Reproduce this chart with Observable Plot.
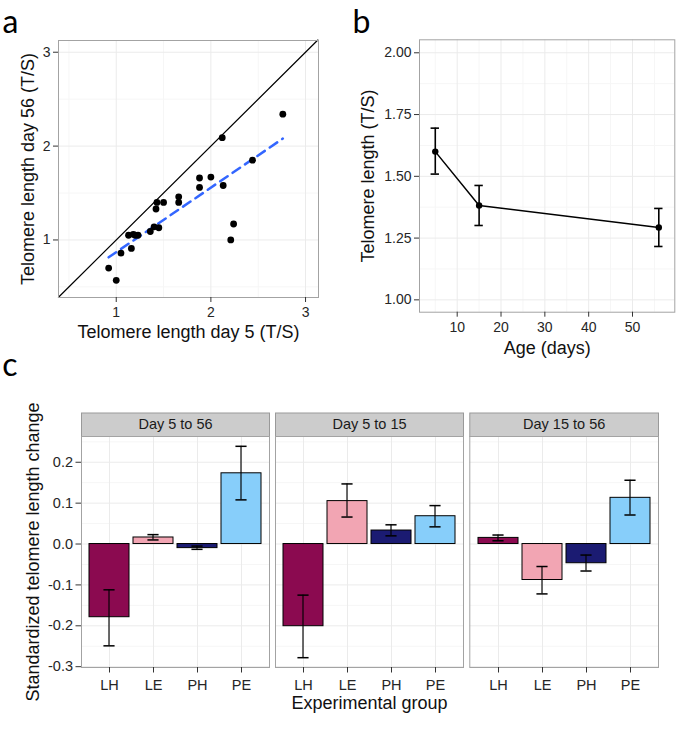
<!DOCTYPE html>
<html><head><meta charset="utf-8">
<script src="https://cdn.jsdelivr.net/npm/d3@7"></script>
<script src="https://cdn.jsdelivr.net/npm/@observablehq/plot@0.6"></script>
<style>
html,body{margin:0;padding:0;background:#fff;}
#fig{position:relative;width:685px;height:731px;overflow:hidden;background:#fff;}
g[aria-label="x-axis label"], g[aria-label="y-axis label"]{font-size:18px;fill:#111;}
</style></head><body><div id="fig"></div>
<script>
// ---------- Panel a: day 5 vs day 56 telomere length ----------
const day5  = [0.92, 1.00, 1.05, 1.13, 1.16, 1.18, 1.20, 1.23, 1.36, 1.40, 1.42, 1.43, 1.45, 1.50, 1.66, 1.66, 1.88, 1.88, 2.00, 2.12, 2.13, 2.21, 2.24, 2.44, 2.76];
const day56 = [0.70, 0.57, 0.86, 1.05, 0.91, 1.06, 1.05, 1.05, 1.09, 1.14, 1.33, 1.40, 1.13, 1.40, 1.46, 1.40, 1.66, 1.56, 1.67, 2.09, 1.58, 1.00, 1.17, 1.85, 2.34];
const fitX = [0.92, 2.76];
const fitY = [0.815, 2.08];
const identityEnds = [0.39, 3.13];
const ticksA = [1, 2, 3];
const minorA = [0.5, 1.5, 2.5];

// ---------- Panel b: telomere length by age ----------
const ages = [5, 15, 56];
const meanTL = [1.600, 1.382, 1.293];
const loTL = [1.509, 1.301, 1.216];
const hiTL = [1.695, 1.463, 1.370];
const ticksBx = [10, 20, 30, 40, 50];
const minorBx = [5, 15, 25, 35, 45, 55];
const ticksBy = [1.00, 1.25, 1.50, 1.75, 2.00];
const minorBy = [1.125, 1.375, 1.625, 1.875];

// ---------- Panel c: standardized change per group ----------
const groups = ["LH", "LE", "PH", "PE"];
const groupColors = ["#8B0A50", "#F2A5B3", "#1B1B72", "#87CEFA"];
const periods = ["Day 5 to 56", "Day 5 to 15", "Day 15 to 56"];
const change5to56  = [-0.179, 0.016, -0.010, 0.173];
const lo5to56      = [-0.249, 0.010, -0.013, 0.108];
const hi5to56      = [-0.112, 0.023, -0.005, 0.239];
const change5to15  = [-0.201, 0.105, 0.033, 0.068];
const lo5to15      = [-0.278, 0.066, 0.020, 0.042];
const hi5to15      = [-0.125, 0.147, 0.047, 0.094];
const change15to56 = [0.015, -0.088, -0.047, 0.113];
const lo15to56     = [0.008, -0.122, -0.066, 0.071];
const hi15to56     = [0.022, -0.055, -0.027, 0.156];
const ticksCy = [-0.3, -0.2, -0.1, 0.0, 0.1, 0.2];
const minorCy = [-0.25, -0.15, -0.05, 0.05, 0.15, 0.25];

// ---------- styling ----------
const FONT = "'Liberation Sans', Arial, Helvetica, sans-serif";
const LABELFONT = "Lato, 'Open Sans', sans-serif";
const MAJOR = "#ebebeb", MINOR = "#f6f6f6", BORDER = "#a3a3a3", TXT = "#262626";
const baseStyle = {fontFamily: FONT, fontSize: "14px", background: "transparent", color: TXT, overflow: "visible"};
const fig = document.getElementById("fig");
function place(el, left, top) {
  el.style.position = "absolute"; el.style.left = left + "px"; el.style.top = top + "px";
  fig.appendChild(el);
}

// ---------- Panel a ----------
const ptsA = day5.map((x, i) => ({x, y: day56[i]}));
const fitA = fitX.map((x, i) => ({x, y: fitY[i]}));
const idA = identityEnds.map(v => ({x: v, y: v}));
const pa = Plot.plot({
  width: 340, height: 345, marginLeft: 58, marginRight: 22, marginTop: 40, marginBottom: 48,
  style: baseStyle,
  x: {domain: [0.39, 3.137]},
  y: {domain: [0.387, 3.125]},
  marks: [
    Plot.gridX(minorA, {stroke: MINOR, strokeOpacity: 1}),
    Plot.gridY(minorA, {stroke: MINOR, strokeOpacity: 1}),
    Plot.gridX(ticksA, {stroke: MAJOR, strokeOpacity: 1}),
    Plot.gridY(ticksA, {stroke: MAJOR, strokeOpacity: 1}),
    Plot.line(idA, {x: "x", y: "y", stroke: "black", strokeWidth: 1.2}),
    Plot.line(fitA, {x: "x", y: "y", stroke: "#3366FF", strokeWidth: 2.5, strokeDasharray: "9,6"}),
    Plot.dot(ptsA, {x: "x", y: "y", r: 3.4, fill: "black"}),
    Plot.frame({stroke: BORDER}),
    Plot.axisX(ticksA, {tickSize: 5, tickPadding: 5, stroke: "#333", fill: TXT, fontSize: 14,
      tickFormat: d => String(d),
      label: "Telomere length day 5 (T/S)", labelAnchor: "center", labelOffset: 40.5, labelArrow: "none"}),
    Plot.axisY(ticksA, {tickSize: 5, tickPadding: 3, stroke: "#333", fill: TXT, fontSize: 14,
      tickFormat: d => String(d),
      label: "Telomere length day 56 (T/S)", labelAnchor: "center", labelOffset: 37, labelArrow: "none"}),
    Plot.text(["a"], {frameAnchor: "top-left", dx: -56, dy: -8, lineAnchor: "bottom", textAnchor: "start",
      fontSize: 32, fontFamily: LABELFONT, fill: "black"})
  ]
});
place(pa, 0, 0);

// ---------- Panel b ----------
const ptsB = ages.map((a, i) => ({age: a, mean: meanTL[i], lo: loTL[i], hi: hiTL[i]}));
const pb = Plot.plot({
  width: 345, height: 362, marginLeft: 79, marginRight: 10.7, marginTop: 39.3, marginBottom: 50.3,
  style: baseStyle,
  x: {domain: [1.4, 59.65]},
  y: {domain: [0.95, 2.0526]},
  marks: [
    Plot.gridX(minorBx, {stroke: MINOR, strokeOpacity: 1}),
    Plot.gridY(minorBy, {stroke: MINOR, strokeOpacity: 1}),
    Plot.gridX(ticksBx, {stroke: MAJOR, strokeOpacity: 1}),
    Plot.gridY(ticksBy, {stroke: MAJOR, strokeOpacity: 1}),
    Plot.line(ptsB, {x: "age", y: "mean", stroke: "black", strokeWidth: 1.5}),
    Plot.ruleX(ptsB, {x: "age", y1: "lo", y2: "hi", stroke: "black", strokeWidth: 1.6}),
    Plot.ruleY(ptsB, {x1: "age", x2: "age", y: "lo", insetLeft: -4.2, insetRight: -4.2, stroke: "black", strokeWidth: 1.6}),
    Plot.ruleY(ptsB, {x1: "age", x2: "age", y: "hi", insetLeft: -4.2, insetRight: -4.2, stroke: "black", strokeWidth: 1.6}),
    Plot.dot(ptsB, {x: "age", y: "mean", r: 3.2, fill: "black"}),
    Plot.frame({stroke: BORDER}),
    Plot.axisX(ticksBx, {tickSize: 5, tickPadding: 5, stroke: "#333", fill: TXT, fontSize: 14,
      label: "Age (days)", labelAnchor: "center", labelOffset: 41.6, labelArrow: "none"}),
    Plot.axisY(ticksBy, {tickSize: 5, tickPadding: 3, stroke: "#333", fill: TXT, fontSize: 14,
      tickFormat: d => d.toFixed(2),
      label: "Telomere length (T/S)", labelAnchor: "center", labelOffset: 58, labelArrow: "none"}),
    Plot.text(["b"], {frameAnchor: "top-left", dx: -67, dy: -7.3, lineAnchor: "bottom", textAnchor: "start",
      fontSize: 32, fontFamily: LABELFONT, fill: "black"})
  ]
});
place(pb, 340, 0);

// ---------- Panel c ----------
const changes = [change5to56, change5to15, change15to56];
const los = [lo5to56, lo5to15, lo15to56];
const his = [hi5to56, hi5to15, hi15to56];
const cTop = 390, cHeight = 341, cMarginTop = 46, cMarginBottom = 64;
const stripH = 23.5, frameH = cHeight - cMarginTop - cMarginBottom;
const layoutC = [
  {left: 0,   width: 272, ml: 81,  mr: 3},
  {left: 272, width: 194, ml: 3,   mr: 3},
  {left: 466, width: 219, ml: 3.3, mr: 27}
];
const bandW = 0.9 * 188.3 / 4.2;
periods.forEach((period, k) => {
  const rows = groups.map((g, i) => ({group: g, v: changes[k][i], lo: los[k][i], hi: his[k][i]}));
  const L = layoutC[k];
  const marks = [
    Plot.frame({fill: "#cccccc", stroke: "#999999", insetTop: -stripH, insetBottom: frameH}),
    Plot.text([period], {frameAnchor: "top", dy: -stripH / 2, lineAnchor: "middle", fontSize: 14.5, fill: "#1a1a1a"}),
    Plot.gridY(minorCy, {stroke: MINOR, strokeOpacity: 1}),
    Plot.gridY(ticksCy, {stroke: MAJOR, strokeOpacity: 1}),
    Plot.gridX(groups, {stroke: MAJOR, strokeOpacity: 1}),
    Plot.barY(rows, {x: "group", y: "v", fill: "group", stroke: "black", strokeWidth: 1}),
    Plot.barY(rows, {x: "group", y1: "lo", y2: "hi", fill: "black",
      insetLeft: (bandW - 1.5) / 2, insetRight: (bandW - 1.5) / 2}),
    Plot.tickY(rows, {x: "group", y: "lo", stroke: "black", strokeWidth: 1.5,
      insetLeft: (bandW - 11.5) / 2, insetRight: (bandW - 11.5) / 2}),
    Plot.tickY(rows, {x: "group", y: "hi", stroke: "black", strokeWidth: 1.5,
      insetLeft: (bandW - 11.5) / 2, insetRight: (bandW - 11.5) / 2}),
    Plot.frame({stroke: BORDER}),
    Plot.axisX({tickSize: 5.5, tickPadding: 6.5, stroke: "#333", fill: TXT, fontSize: 14.5,
      label: k === 1 ? "Experimental group" : null, labelAnchor: "center", labelOffset: 41, labelArrow: "none"})
  ];
  if (k === 0) {
    marks.push(Plot.axisY(ticksCy, {tickSize: 5.5, tickPadding: 3, stroke: "#333", fill: TXT, fontSize: 14.5,
      tickFormat: d => d.toFixed(1),
      label: "Standardized telomere length change", labelAnchor: "center", labelOffset: 55.3, labelArrow: "none"}));
    marks.push(Plot.text(["c"], {frameAnchor: "top-left", dx: -79.3, dy: -61, lineAnchor: "bottom", textAnchor: "start",
      fontSize: 32, fontFamily: LABELFONT, fill: "black"}));
  }
  const pc = Plot.plot({
    width: L.width, height: cHeight, marginLeft: L.ml, marginRight: L.mr, marginTop: cMarginTop, marginBottom: cMarginBottom,
    style: baseStyle,
    x: {domain: groups, paddingInner: 0.1, paddingOuter: 0.15},
    y: {domain: [-0.302, 0.263], axis: k === 0 ? undefined : null},
    color: {domain: groups, range: groupColors},
    marks
  });
  place(pc, L.left, cTop);
});
</script></body></html>
